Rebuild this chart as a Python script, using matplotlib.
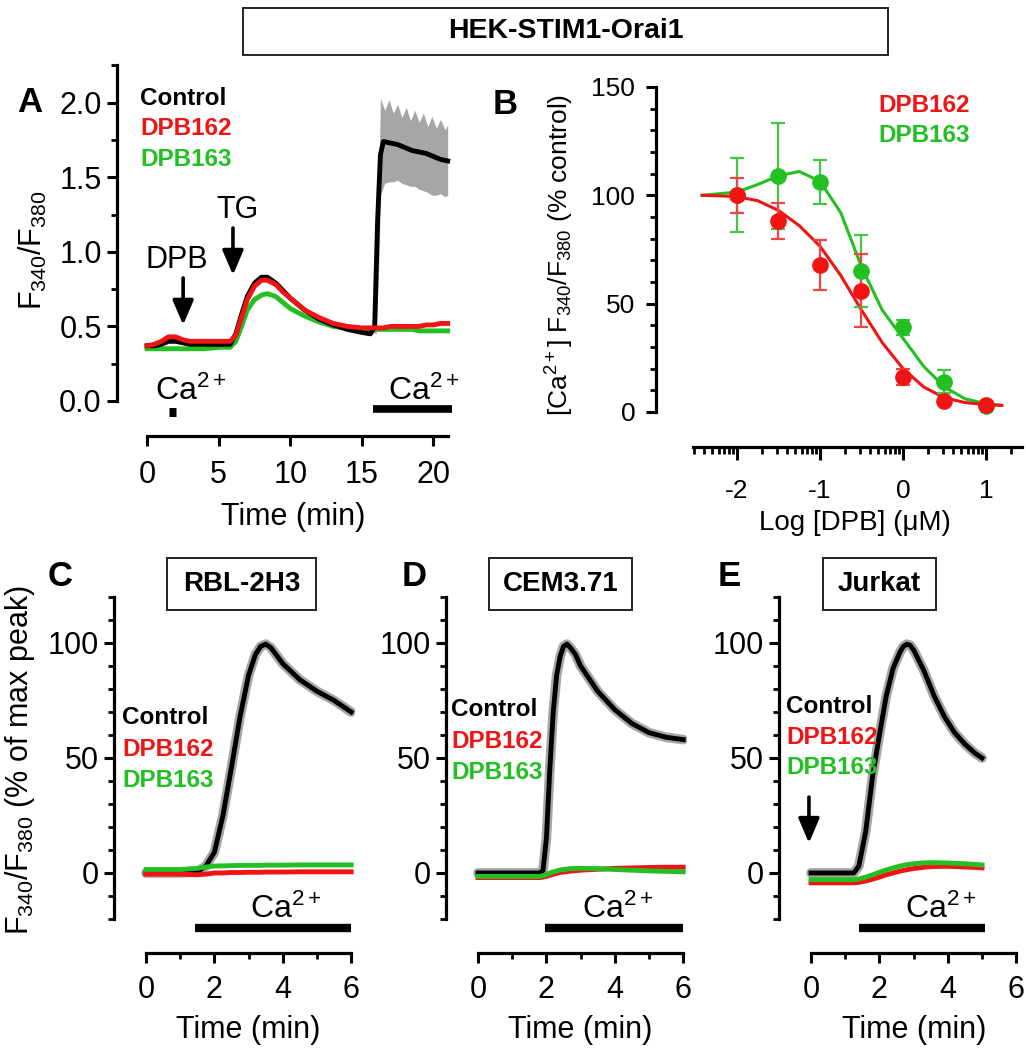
import matplotlib
matplotlib.use('Agg')
import matplotlib.pyplot as plt
from matplotlib.patches import Rectangle
import numpy as np

# ---------------- data ----------------
# Panel A (HEK-STIM1-Orai1) traces, F340/F380 vs time (min)
A_t = [0, 0.5, 1.0, 1.5, 2.0, 2.5, 3.0, 4.0, 5.0, 5.8, 6.2, 6.6, 7.0, 7.5, 8.0, 8.4, 9.0, 9.5,
       10, 11, 12, 13, 14, 15, 15.6, 15.9, 16.1, 16.3, 16.5, 17, 17.5, 18, 18.5, 19, 19.5, 20, 20.5, 21]
A_control = [0.37, 0.37, 0.38, 0.40, 0.40, 0.39, 0.38, 0.38, 0.38, 0.38, 0.45, 0.58, 0.70, 0.79, 0.83, 0.83,
             0.79, 0.74, 0.69, 0.61, 0.55, 0.51, 0.48, 0.46, 0.45, 0.50, 1.20, 1.65, 1.74, 1.73, 1.72, 1.70,
             1.68, 1.67, 1.66, 1.64, 1.62, 1.61]
A_dpb162 = [0.37, 0.38, 0.40, 0.43, 0.43, 0.41, 0.40, 0.40, 0.40, 0.40, 0.44, 0.56, 0.68, 0.77, 0.81, 0.81,
            0.78, 0.73, 0.69, 0.61, 0.56, 0.52, 0.50, 0.49, 0.49, 0.49, 0.49, 0.49, 0.49, 0.50, 0.50, 0.50,
            0.50, 0.50, 0.51, 0.51, 0.52, 0.52]
A_dpb163 = [0.35, 0.35, 0.35, 0.35, 0.35, 0.35, 0.35, 0.35, 0.36, 0.36, 0.40, 0.50, 0.61, 0.68, 0.71, 0.72,
            0.70, 0.66, 0.62, 0.57, 0.53, 0.50, 0.49, 0.48, 0.48, 0.48, 0.48, 0.48, 0.48, 0.48, 0.48, 0.48,
            0.48, 0.47, 0.47, 0.47, 0.47, 0.47]
A_sem_t = [15.8, 16.0, 16.2, 16.3, 16.6, 16.9, 17.2, 17.5, 17.8, 18.1, 18.4, 18.7, 19.0, 19.3, 19.6,
           19.9, 20.2, 20.5, 20.8, 21.0]
A_sem_hi = [0.48, 0.62, 1.50, 2.03, 1.95, 2.02, 1.93, 1.99, 1.90, 1.97, 1.88, 1.95, 1.87, 1.93, 1.84,
            1.91, 1.83, 1.89, 1.82, 1.85]
A_sem_lo = [0.46, 0.45, 0.95, 1.38, 1.46, 1.47, 1.47, 1.48, 1.46, 1.45, 1.44, 1.44, 1.42, 1.41, 1.40,
            1.38, 1.38, 1.39, 1.37, 1.38]
A_yticklabels = ['0.0', '0.5', '1.0', '1.5', '2.0']

# Panel B: concentration-response
B_logc = [-2, -1.5, -1, -0.5, 0, 0.5, 1]
B_dpb162 = [100, 88, 68, 56, 16, 5, 3]
B_dpb162_err = [8, 8.3, 11.5, 16.7, 3.8, 1.0, 0.5]
B_dpb163 = [100, 109, 106, 65, 39, 14, 2.5]
B_dpb163_err = [17, 24.5, 10.2, 16.5, 3.5, 5.3, 0.5]
B_fit_x = [-2.42, -2.25, -2.0, -1.75, -1.5, -1.25, -1.0, -0.75, -0.5, -0.25, 0.0, 0.25, 0.5, 0.75, 1.0, 1.19]
B_fit_162 = [100, 99.8, 99.4, 97.5, 93, 86, 76.5, 63, 47, 32, 20, 11.5, 6.5, 4.3, 3.4, 3.0]
B_fit_163 = [100, 100.6, 101.5, 105, 109, 111, 106.5, 92, 67, 47, 34, 21, 11.5, 6, 3.8, 3.0]
B_xticklabels = ['-2', '-1', '0', '1']

# Panel C: RBL-2H3
C_t = [0, 1.0, 1.5, 1.75, 2.0, 2.25, 2.5, 2.75, 3.0, 3.2, 3.35, 3.5, 3.65, 3.8, 4.0, 4.5, 5.0, 5.5, 6.0]
C_control = [0, 0, 0.5, 3, 9, 25, 46, 68, 86, 95, 98.5, 99.5, 98, 95, 91, 84, 79, 75, 70]
C_dpb162 = [-0.5, -0.5, -0.8, -0.5, 0, 0, 0.2, 0.2, 0.3, 0.3, 0.3, 0.4, 0.4, 0.4, 0.4, 0.5, 0.5, 0.5, 0.5]
C_dpb163 = [1.5, 1.5, 2.0, 2.6, 3.0, 3.1, 3.2, 3.3, 3.3, 3.3, 3.3, 3.4, 3.4, 3.4, 3.4, 3.5, 3.5, 3.5, 3.5]

# Panel D: CEM3.71
D_t = [0, 1.0, 1.8, 1.9, 2.0, 2.1, 2.2, 2.3, 2.4, 2.5, 2.6, 2.7, 2.85, 3.0, 3.5, 4.0, 4.5, 5.0, 5.5, 6.0]
D_control = [0, 0, 0, 1, 15, 45, 70, 86, 94, 98.5, 99.5, 98, 95, 90, 79, 71, 65, 61, 59, 58]
D_dpb162 = [-2, -2, -2, -1.8, -1.5, -1.0, -0.6, -0.2, 0.2, 0.4, 0.6, 0.8, 1.0, 1.2, 1.6, 2.0, 2.2, 2.4, 2.5, 2.5]
D_dpb163 = [-1.5, -1.5, -1.5, -1.2, -0.6, 0, 0.5, 0.9, 1.3, 1.5, 1.7, 1.9, 2.0, 2.0, 1.9, 1.5, 1.2, 0.9, 0.7, 0.5]

# Panel E: Jurkat
E_t = [0, 1.0, 1.25, 1.4, 1.6, 1.8, 2.0, 2.2, 2.4, 2.6, 2.7, 2.8, 2.9, 3.0, 3.3, 3.6, 3.9, 4.2, 4.5, 4.8, 5.0]
E_control = [0, 0, 0, 3, 18, 42, 60, 77, 89, 96, 98.5, 99.5, 99, 97, 88, 77, 68, 61, 56, 52, 50]
E_dpb162 = [-4.3, -4.3, -4.3, -4.1, -3.5, -2.7, -1.8, -0.8, 0, 0.8, 1.1, 1.4, 1.7, 1.9, 2.5, 2.8, 2.9, 2.8,
            2.6, 2.4, 2.2]
E_dpb163 = [-2.9, -2.9, -2.9, -2.6, -1.8, -0.8, 0.3, 1.3, 2.2, 3.0, 3.3, 3.6, 3.8, 4.0, 4.4, 4.5, 4.4, 4.2,
            4.0, 3.7, 3.5]

ctrl_label, l162, l163 = 'Control', 'DPB162', 'DPB163'

# ---------------- style ----------------
RED = '#f01414'
GREEN = '#22c022'
GRAY = '#a6a6a6'
FAM = ['Liberation Sans', 'DejaVu Sans']
plt.rcParams['font.family'] = FAM
plt.rcParams['mathtext.fontset'] = 'custom'
plt.rcParams['mathtext.rm'] = 'Liberation Sans'
plt.rcParams['mathtext.it'] = 'Liberation Sans:italic'
plt.rcParams['mathtext.bf'] = 'Liberation Sans:bold'

W, H = 1026, 1050
fig = plt.figure(figsize=(W / 100, H / 100), dpi=100)


def ax_px(left, top, right, bottom):
    return fig.add_axes([left / W, 1 - bottom / H, (right - left) / W, (bottom - top) / H])


def ftext(x, y, s, **kw):
    return fig.text(x / W, 1 - y / H, s, **kw)


def style(ax, xlim, ylim, xb, yb, xmaj, xmin, ymaj, ymin, labsize=22, xpad=9, ypad=4):
    ax.set_xlim(xlim)
    ax.set_ylim(ylim)
    for s in ['top', 'right']:
        ax.spines[s].set_visible(False)
    for s in ['left', 'bottom']:
        ax.spines[s].set_linewidth(2.3)
    ax.spines['left'].set_bounds(*yb)
    ax.spines['bottom'].set_bounds(*xb)
    ax.set_xticks(xmaj)
    ax.set_xticks(xmin, minor=True)
    ax.set_yticks(ymaj)
    ax.set_yticks(ymin, minor=True)
    ax.tick_params(which='major', length=7, width=2.2, direction='out', labelsize=labsize)
    ax.tick_params(which='minor', length=4, width=2.0, direction='out')
    ax.tick_params(axis='x', which='major', pad=xpad)
    ax.tick_params(axis='y', which='major', pad=ypad)
    ax.patch.set_alpha(0)


def bar(ax, x0, x1, y, lw=6):
    ax.plot([x0, x1], [y, y], color='k', lw=lw, solid_capstyle='butt', clip_on=False)


def arrow(ax, x, ytop, ytip):
    ax.annotate('', xy=(x, ytip), xytext=(x, ytop),
                arrowprops=dict(arrowstyle='-|>,head_length=0.75,head_width=0.32', mutation_scale=20,
                                lw=2.6, color='k', shrinkA=0, shrinkB=0), annotation_clip=False)


def legend3(ax, x, ys, size=17.5):
    for y, s, c in zip(ys, [ctrl_label, l162, l163], ['k', RED, GREEN]):
        ax.text(x, y, s, color=c, fontsize=size, fontweight='bold', ha='left', va='center')


CA = 'Ca$^{2+}$'

# ---------------- Panel A ----------------
axA = ax_px(117, 65.5, 452, 436)
style(axA, (-2.1, 21.3), (-0.235, 2.25), (0, 21), (0, 2.25),
      [0, 5, 10, 15, 20], [], [0, 0.5, 1.0, 1.5, 2.0], [0.25, 0.75, 1.25, 1.75, 2.25], xpad=10)
axA.set_yticklabels(A_yticklabels)
axA.fill_between(A_sem_t, A_sem_lo, A_sem_hi, color=GRAY, lw=0)
axA.plot(A_t, A_dpb163, color=GREEN, lw=3.5)
axA.plot(A_t, A_control, color='k', lw=3.5)
axA.plot(A_t, A_dpb162, color=RED, lw=3.5)
bar(axA, 1.5, 2.05, -0.077, lw=6.5)
bar(axA, 15.8, 21.3, -0.057, lw=5.5)
axA.text(0.56, 0.007, CA, fontsize=23, ha='left', va='baseline')
axA.text(16.8, 0.007, CA, fontsize=23, ha='left', va='baseline')
arrow(axA, 2.52, 0.825, 0.51)
arrow(axA, 6.0, 1.16, 0.845)
axA.text(2.1, 0.946, 'DPB', fontsize=22, ha='center', va='center')
axA.text(6.3, 1.28, 'TG', fontsize=22, ha='center', va='center')
legend3(axA, -0.5, [2.03, 1.825, 1.617])
ftext(33, 250, 'F$_{340}$/F$_{380}$', fontsize=22, rotation=90, ha='center', va='center')
ftext(293, 517, 'Time (min)', fontsize=22, ha='center', va='center')
ftext(30, 103, 'A', fontsize=25, fontweight='bold', ha='center', va='center')

# ---------------- Panel B ----------------
axB = ax_px(656, 87, 1022, 447)
B_minor = [n + np.log10(k) for n in range(-3, 2) for k in range(2, 10)]
B_minor = [v for v in B_minor if -2.55 <= v <= 1.43]
style(axB, (-2.976, 1.434), (-16.2, 150), (-2.53, 1.43), (0, 150),
      [-2, -1, 0, 1], B_minor, [0, 50, 100, 150], list(range(10, 150, 10)),
      labsize=19, xpad=14, ypad=8)
axB.set_xticklabels(B_xticklabels)
axB.tick_params(axis='x', which='major', length=9)
axB.tick_params(axis='x', which='minor', length=5)
axB.plot(B_fit_x, B_fit_163, color=GREEN, lw=2.2)
axB.plot(B_fit_x, B_fit_162, color=RED, lw=2.2)
axB.errorbar(B_logc, B_dpb163, yerr=B_dpb163_err, fmt='o', color=GREEN, ms=11, ecolor='#44c844',
             elinewidth=1.6, capsize=5, capthick=1.6, clip_on=False)
axB.errorbar(B_logc, B_dpb162, yerr=B_dpb162_err, fmt='o', color=RED, ms=11, ecolor='#f04545',
             elinewidth=1.6, capsize=5, capthick=1.6, clip_on=False)
ftext(878, 105, l162, color=RED, fontsize=17.5, fontweight='bold', ha='left', va='center')
ftext(878, 135, l163, color=GREEN, fontsize=17.5, fontweight='bold', ha='left', va='center')
ftext(560, 255, '[Ca$^{2+}$] F$_{340}$/F$_{380}$ (% control)', fontsize=19, rotation=90,
      ha='center', va='center')
ftext(855, 523, 'Log [DPB] (\u03bcM)', fontsize=20, ha='center', va='center')
ftext(505, 105, 'B', fontsize=25, fontweight='bold', ha='center', va='center')

# ---------------- Panels C, D, E ----------------
def lower_panel(left_px, x0_px, right_px, t, ctrl, r162, g163, ca_range, ca_text_x, leg_x, leg_ys):
    pxmin = 34.2
    xl = (left_px - x0_px) / pxmin
    xr = (right_px - x0_px) / pxmin
    ax = ax_px(left_px, 597, right_px, 953)
    style(ax, (xl, xr), (-34.8, 120), (0, 6), (-20, 120), [0, 2, 4, 6], [1, 3, 5],
          [0, 50, 100], [-20, -10, 10, 20, 30, 40, 60, 70, 80, 90, 110, 120], xpad=9)
    ax.plot(t, ctrl, color=GRAY, lw=7, solid_capstyle='round')
    ax.plot(t, ctrl, color='k', lw=3.5)
    ax.plot(t, r162, color=RED, lw=3.5)
    ax.plot(t, g163, color=GREEN, lw=3.5)
    bar(ax, ca_range[0], ca_range[1], -23.9, lw=6)
    ax.text(ca_text_x, -19.6, CA, fontsize=23, ha='left', va='baseline')
    legend3(ax, leg_x, leg_ys)
    return ax


axC = lower_panel(114, 146, 355, C_t, C_control, C_dpb162, C_dpb163, (1.43, 6.0), 3.04, -0.70,
                  [67.4, 53.9, 40.0])
axD = lower_panel(446, 478, 687, D_t, D_control, D_dpb162, D_dpb163, (1.96, 6.0), 3.04, -0.79,
                  [70.9, 57.0, 43.9])
axE = lower_panel(779, 811, 1022, E_t, E_control, E_dpb162, E_dpb163, (1.4, 5.1), 2.75, -0.72,
                  [72.2, 58.7, 45.7])
arrow(axE, -0.06, 33, 13)

ftext(20, 760, 'F$_{340}$/F$_{380}$ (% of max peak)', fontsize=22, rotation=90, ha='center', va='center')
for cx in [248, 580, 914]:
    ftext(cx, 1030, 'Time (min)', fontsize=22, ha='center', va='center')
for cx, s in [(60, 'C'), (414, 'D'), (729, 'E')]:
    ftext(cx, 577, s, fontsize=25, fontweight='bold', ha='center', va='center')

# ---------------- boxes ----------------
def box(x0, y0, x1, y1, s, size):
    fig.patches.append(Rectangle((x0 / W, 1 - y1 / H), (x1 - x0) / W, (y1 - y0) / H,
                                 transform=fig.transFigure, fill=False, lw=1.4, ec='#222222'))
    ftext((x0 + x1) / 2, (y0 + y1) / 2, s, fontsize=size, fontweight='bold', ha='center', va='center')


box(243, 8, 888, 55, 'HEK-STIM1-Orai1', 20.5)
box(167, 558, 316, 610, 'RBL-2H3', 20)
box(489, 558, 632, 610, 'CEM3.71', 20)
box(823, 558, 936, 610, 'Jurkat', 20)

fig.savefig('out.png', dpi=100)
